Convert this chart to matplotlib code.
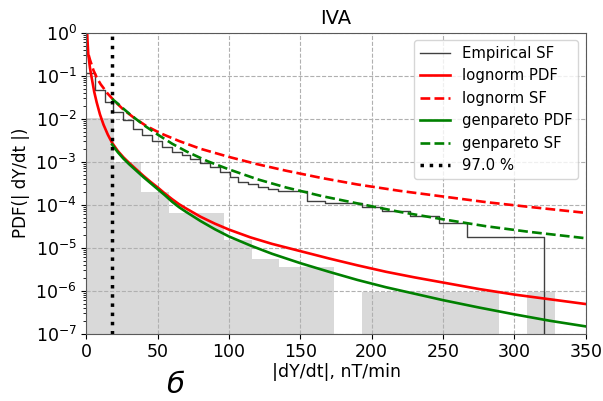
import numpy as np
import matplotlib
matplotlib.use("Agg")
import matplotlib.pyplot as plt

# histogram of |dY/dt| (density), 17 bins
bin_edges = np.linspace(0, 328.1, 18)
hist_vals = [1.03e-2, 1.0e-3, 2.0e-4, 6.5e-5, 6.3e-5, 1.5e-5, 5.6e-6, 3.6e-6, 3.6e-6,
             0.0, 9.5e-7, 9.5e-7, 9.5e-7, 9.5e-7, 9.5e-7, 0.0, 9.5e-7]

# empirical survival function (step edges and levels)
sf_x = [0, 6.0, 13.0, 18.9, 25.9, 32.9, 38.8, 45.8, 52.8, 59.8, 66.8, 72.7, 79.7, 86.7,
        93.7, 100.7, 106.5, 113.6, 120.6, 127.6, 134.6, 154.5, 167.4, 193.1, 207.1,
        227.0, 246.8, 266.7, 320.5]
sf_y = [0.1135, 0.0465, 0.0249, 0.01456, 0.0093, 0.0058, 0.0042, 0.0030, 0.0022, 0.0017,
        0.00144, 0.00114, 0.00095, 0.00077, 0.00059, 0.00045, 0.00034, 0.00030, 0.00026,
        0.00023, 0.00021, 0.000125, 0.000107, 8.9e-5, 7.1e-5, 5.5e-5, 3.7e-5, 1.74e-5, 1e-9]

# lognorm fit (log10 values)
ln_pdf_x = [0.3, 0.7, 1.3, 2.5, 3.7, 5.5, 7.2, 9.5, 12, 15, 18, 22, 26, 30, 35, 40, 45,
            50, 55, 60, 65, 70, 80, 90, 100, 115, 130, 150, 170, 190, 210, 230, 250,
            275, 300, 325, 350]
ln_pdf_lg = [0.2, -0.15, -0.5, -0.82, -1.05, -1.38, -1.62, -1.9, -2.14, -2.37, -2.56,
             -2.75, -2.9, -3.03, -3.18, -3.33, -3.47, -3.6, -3.74, -3.87, -3.99, -4.09,
             -4.28, -4.44, -4.58, -4.76, -4.91, -5.08, -5.25, -5.41, -5.56, -5.69,
             -5.81, -5.96, -6.09, -6.2, -6.31]
ln_sf_x = [0.2, 1, 2.5, 5, 7.5, 10, 15, 20, 26, 33, 42, 52, 65, 80, 100, 120, 140, 165,
           190, 220, 250, 280, 310, 350]
ln_sf_lg = [-0.2, -0.45, -0.63, -0.88, -1.06, -1.2, -1.42, -1.6, -1.79, -1.97, -2.17,
            -2.34, -2.52, -2.7, -2.89, -3.06, -3.21, -3.38, -3.53, -3.68, -3.81, -3.94,
            -4.05, -4.19]

# genpareto fit above threshold
gp_pdf_x = [18, 22, 26, 30, 35, 40, 45, 50, 55, 60, 65, 70, 80, 90, 100, 115, 130, 150,
            170, 190, 210, 230, 250, 275, 300, 325, 350]
gp_pdf_lg = [-2.6, -2.78, -2.93, -3.06, -3.21, -3.36, -3.5, -3.64, -3.78, -3.93, -4.06,
             -4.17, -4.38, -4.57, -4.74, -4.95, -5.14, -5.36, -5.56, -5.75, -5.92, -6.07,
             -6.22, -6.39, -6.55, -6.7, -6.83]
gp_sf_x = [18, 22, 26, 30.6, 36, 42, 50, 60, 70, 85, 100, 120, 140, 165, 190, 220, 250,
           280, 310, 350]
gp_sf_lg = [-1.54, -1.65, -1.77, -1.9, -2.04, -2.19, -2.37, -2.58, -2.76, -2.99, -3.18,
            -3.41, -3.6, -3.8, -3.97, -4.17, -4.34, -4.5, -4.63, -4.78]

threshold = 18.0

fig = plt.figure(figsize=(6.03, 4.01), dpi=100)
ax = fig.add_axes([0.1433, 0.1678, 0.8281, 0.7507])

ax.bar(bin_edges[:-1], hist_vals, width=np.diff(bin_edges), align="edge",
       color="#d9d9d9", zorder=1)
ax.plot(sf_x, sf_y, drawstyle="steps-post", color="k", alpha=0.75, lw=1.0,
        label="Empirical SF")
ax.plot(ln_pdf_x, 10**np.array(ln_pdf_lg), color="red", lw=1.9, label="lognorm PDF")
ax.plot(ln_sf_x, 10**np.array(ln_sf_lg), color="red", lw=1.9, ls="--", label="lognorm SF")
ax.plot(gp_pdf_x, 10**np.array(gp_pdf_lg), color="green", lw=1.9, label="genpareto PDF")
ax.plot(gp_sf_x, 10**np.array(gp_sf_lg), color="green", lw=1.9, ls="--", label="genpareto SF")
ax.axvline(threshold, color="k", ls=":", lw=2.5, label="97.0 %")

ax.set_yscale("log")
ax.set_xlim(0, 350)
ax.set_ylim(1e-7, 1)
ax.grid(True, ls="--", color="#b0b0b0", lw=0.8)
for sp in ax.spines.values():
    sp.set_color("0.35")
ax.tick_params(labelsize=12.5)
ax.set_xlabel("|dY/dt|, nT/min", fontsize=12.5, labelpad=1)
ax.set_ylabel("PDF(| dY/dt |)", fontsize=12)
ax.set_title("IVA", fontsize=14)
ax.legend(loc="upper right", fontsize=10.7)

fig.text(0.29, 0.04, "б", fontsize=21, style="italic", ha="center", va="center")

fig.savefig("out.png", dpi=100)
